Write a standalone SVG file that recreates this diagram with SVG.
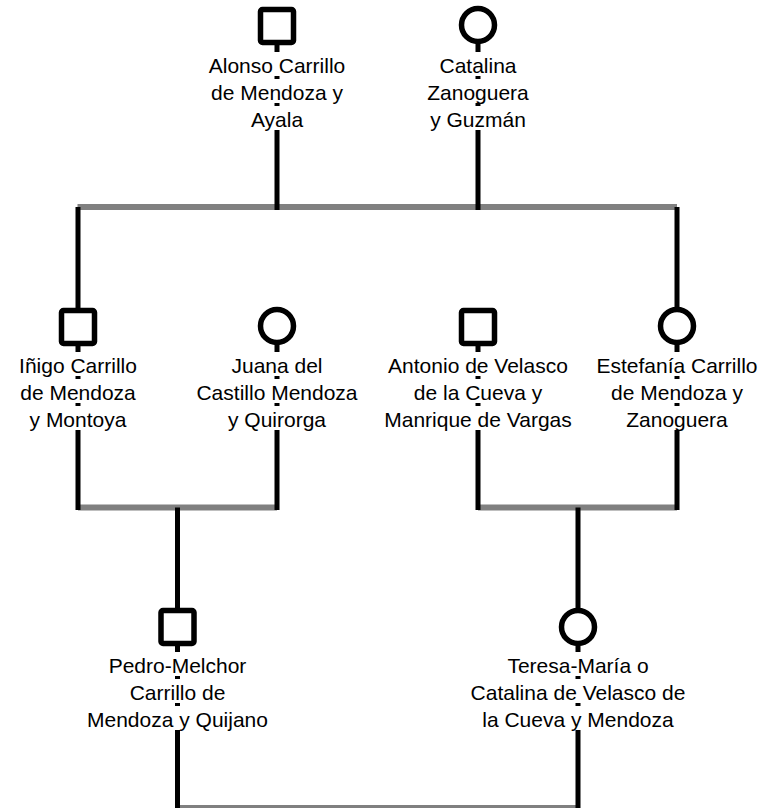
<svg xmlns="http://www.w3.org/2000/svg" width="764" height="808" viewBox="0 0 764 808">
<style>
.bar{stroke:#808080;stroke-width:6;fill:none}
.ln{stroke:#000;stroke-width:5;fill:none}
.sym{fill:#fff;stroke:#000;stroke-width:5.5}
.bg{fill:#fff}
text{font-family:"Liberation Sans",Arial,sans-serif;font-size:21px;fill:#000;text-anchor:middle}
</style>
<rect width="764" height="808" fill="#fff"/>
<g id="connectors">
<path class="bar" d="M77.5 207H677M78 507.5H277M478 507.5H677M177.5 808H578"/>
<path class="ln" d="M277 44V210M478 43V210M78 207V309M677 207V308M78 345V510M277 344V510M478 345V510M677 344V510M177.5 507.5V609M578 507.5V609M177.5 645V808M578 646V808"/>
</g>
<g id="n1">
<rect class="sym" x="260.5" y="9.5" width="33" height="33" rx="2"/>
<rect class="bg" x="262" y="52" width="30" height="24"/><rect class="bg" x="262" y="79" width="30" height="24"/><rect class="bg" x="262" y="106" width="30" height="24"/>
<text x="277" y="73">Alonso Carrillo</text><text x="277" y="100">de Mendoza y</text><text x="277" y="127">Ayala</text>
</g>
<g id="n2">
<circle class="sym" cx="478" cy="25" r="16.5"/>
<rect class="bg" x="463" y="52" width="30" height="24"/><rect class="bg" x="463" y="79" width="30" height="24"/><rect class="bg" x="463" y="106" width="30" height="24"/>
<text x="478" y="73">Catalina</text><text x="478" y="100">Zanoguera</text><text x="478" y="127">y Guzmán</text>
</g>
<g id="n3">
<rect class="sym" x="61.5" y="310.5" width="33" height="33" rx="2"/>
<rect class="bg" x="63" y="352" width="30" height="24"/><rect class="bg" x="63" y="379" width="30" height="24"/><rect class="bg" x="63" y="406" width="30" height="24"/>
<text x="78" y="373">Iñigo Carrillo</text><text x="78" y="400">de Mendoza</text><text x="78" y="427">y Montoya</text>
</g>
<g id="n4">
<circle class="sym" cx="277" cy="326" r="16.5"/>
<rect class="bg" x="262" y="352" width="30" height="24"/><rect class="bg" x="262" y="379" width="30" height="24"/><rect class="bg" x="262" y="406" width="30" height="24"/>
<text x="277" y="373">Juana del</text><text x="277" y="400">Castillo Mendoza</text><text x="277" y="427">y Quirorga</text>
</g>
<g id="n5">
<rect class="sym" x="461.5" y="310.5" width="33" height="33" rx="2"/>
<rect class="bg" x="463" y="352" width="30" height="24"/><rect class="bg" x="463" y="379" width="30" height="24"/><rect class="bg" x="463" y="406" width="30" height="24"/>
<text x="478" y="373">Antonio de Velasco</text><text x="478" y="400">de la Cueva y</text><text x="478" y="427">Manrique de Vargas</text>
</g>
<g id="n6">
<circle class="sym" cx="677" cy="326" r="16.5"/>
<rect class="bg" x="662" y="352" width="30" height="24"/><rect class="bg" x="662" y="379" width="30" height="24"/><rect class="bg" x="662" y="406" width="30" height="24"/>
<text x="677" y="373">Estefanía Carrillo</text><text x="677" y="400">de Mendoza y</text><text x="677" y="427">Zanoguera</text>
</g>
<g id="n7">
<rect class="sym" x="161" y="610.5" width="33" height="33" rx="2"/>
<rect class="bg" x="162.5" y="652" width="30" height="24"/><rect class="bg" x="162.5" y="679" width="30" height="24"/><rect class="bg" x="162.5" y="706" width="30" height="24"/>
<text x="177.5" y="673">Pedro-Melchor</text><text x="177.5" y="700">Carrillo de</text><text x="177.5" y="727">Mendoza y Quijano</text>
</g>
<g id="n8">
<circle class="sym" cx="578" cy="627" r="16.5"/>
<rect class="bg" x="563" y="652" width="30" height="24"/><rect class="bg" x="563" y="679" width="30" height="24"/><rect class="bg" x="563" y="706" width="30" height="24"/>
<text x="578" y="673">Teresa-María o</text><text x="578" y="700">Catalina de Velasco de</text><text x="578" y="727">la Cueva y Mendoza</text>
</g>
</svg>
